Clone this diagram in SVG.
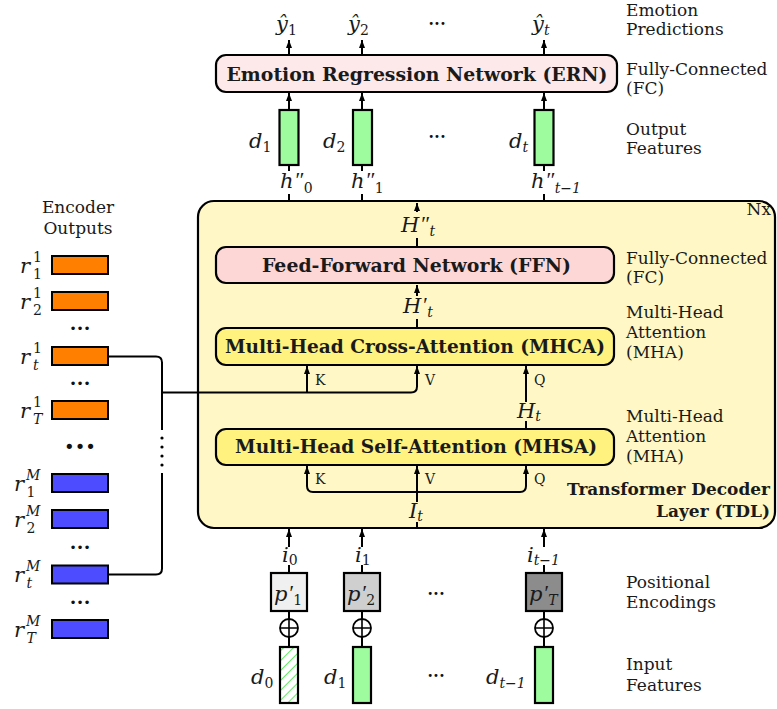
<svg xmlns="http://www.w3.org/2000/svg" width="777" height="709" viewBox="0 0 777 709">
<defs>
<style>
.t{font-family:"DejaVu Serif",serif;font-size:17px;fill:#1a1a1a}
.tb{font-family:"DejaVu Serif",serif;font-size:17px;font-weight:bold;fill:#1a1a1a;text-anchor:end}
.b{font-family:"DejaVu Serif",serif;font-size:19px;font-weight:bold;fill:#1a1a1a;text-anchor:middle}
.m{font-family:"DejaVu Serif",serif;font-style:italic;font-size:21px;fill:#1a1a1a}
.n{font-size:14px;font-style:normal}
.ni{font-size:14px}
.p{font-family:"Liberation Serif",serif;font-size:22px;font-style:italic}
.kv{font-family:"DejaVu Serif",serif;font-size:14px;fill:#1a1a1a}
.ln{fill:none;stroke:#000;stroke-width:2}
.ar{fill:none;stroke:#000;stroke-width:2;marker-end:url(#ah)}
.box{stroke:#000;stroke-width:2.2}
.g{fill:#9efc9e;stroke:#000;stroke-width:2.2}
.or{fill:#ff8000;stroke:#000;stroke-width:2}
.bl{fill:#4d4dff;stroke:#000;stroke-width:2}
.dots{font-family:"DejaVu Sans",sans-serif;font-size:10px;text-anchor:middle;fill:#111}
.op{fill:#fff;stroke:#000;stroke-width:1.8}
.cr{fill:none;stroke:#000;stroke-width:1.6}
</style>
<marker id="ah" viewBox="0 0 8 6" refX="8" refY="3" markerWidth="8" markerHeight="6" orient="auto" markerUnits="userSpaceOnUse">
<path d="M0,0 L8,3 L0,6 z" fill="#000"/>
</marker>
<pattern id="hatch" patternUnits="userSpaceOnUse" width="7" height="7" patternTransform="rotate(45)">
<rect width="7" height="7" fill="#fff"/>
<line x1="0" y1="0" x2="0" y2="7" stroke="#00dd00" stroke-width="1.2"/>
</pattern>
</defs>

<!-- Transformer decoder layer container -->
<g id="tdl">
<rect x="198" y="201" width="577" height="327" rx="16" fill="#fff8c6" class="box"/>
<text class="t" x="771" y="215" text-anchor="end">Nx</text>
<text class="tb" x="770" y="495" textLength="203" lengthAdjust="spacingAndGlyphs">Transformer Decoder</text>
<text class="tb" x="770" y="517">Layer (TDL)</text>
</g>

<!-- connectors -->
<g id="connectors">
<path class="ar" d="M289,55 V40"/>
<path class="ar" d="M362,55 V40"/>
<path class="ar" d="M544,55 V40"/>
<path class="ar" d="M289,110 V93"/>
<path class="ar" d="M362,110 V93"/>
<path class="ar" d="M544,110 V93"/>
<path class="ln" d="M289,165 V171 M289,194 V201"/>
<path class="ln" d="M362,165 V171 M362,194 V201"/>
<path class="ln" d="M544,165 V171 M544,194 V201"/>
<path class="ar" d="M417,212 V203"/>
<path class="ln" d="M417,238 V247"/>
<path class="ar" d="M417,296 V285"/>
<path class="ln" d="M417,319 V328"/>
<path class="ar" d="M162,392.5 H411 Q417,392.5 417,386.5 V366"/>
<path class="ar" d="M307,392.5 V366"/>
<path class="ar" d="M526,402 V366"/>
<path class="ln" d="M526,421 V429"/>
<path class="ar" d="M417,492 H313 Q307,492 307,486 V466"/>
<path class="ar" d="M417,492 H520 Q526,492 526,486 V466"/>
<path class="ar" d="M417,502 V466"/>
<path class="ln" d="M417,522 V528"/>
<path class="ln" d="M108,356.5 H156 Q162,356.5 162,362.5 V430"/>
<path class="ln" d="M162,473 V568.5 Q162,574.5 156,574.5 H108"/>
<circle cx="162" cy="438" r="1.6"/>
<circle cx="162" cy="447" r="1.6"/>
<circle cx="162" cy="456" r="1.6"/>
<circle cx="162" cy="465" r="1.6"/>
<path class="ar" d="M289,547 V529"/>
<path class="ar" d="M362,547 V529"/>
<path class="ar" d="M544,547 V529"/>
<path class="ln" d="M289,565 V573 M289,611 V619 M289,637 V647"/>
<path class="ln" d="M362,565 V573 M362,611 V619 M362,637 V647"/>
<path class="ln" d="M544,565 V573 M544,611 V619 M544,637 V647"/>
</g>

<!-- ERN -->
<g id="ern">
<rect x="216" y="55" width="401" height="37" rx="10" fill="#fde9e9" class="box"/>
<text class="b" x="417" y="81" textLength="381" lengthAdjust="spacingAndGlyphs">Emotion Regression Network (ERN)</text>
</g>

<!-- predictions -->
<g id="predictions">
<text class="m" x="276" y="31">ŷ<tspan class="n" dy="4">1</tspan></text>
<text class="m" x="348" y="31">ŷ<tspan class="n" dy="4">2</tspan></text>
<text class="dots" x="437" y="26.5">•••</text>
<text class="m" x="532" y="31">ŷ<tspan class="ni" dy="4">t</tspan></text>
</g>

<!-- output features -->
<g id="output-features">
<rect class="g" x="279.5" y="110" width="19" height="55"/>
<rect class="g" x="353" y="110" width="19" height="55"/>
<rect class="g" x="534.5" y="110" width="19" height="55"/>
<text class="m" x="249" y="148">d<tspan class="n" dy="4">1</tspan></text>
<text class="m" x="323" y="148">d<tspan class="n" dy="4">2</tspan></text>
<text class="dots" x="437" y="139.5">•••</text>
<text class="m" x="509" y="148">d<tspan class="ni" dy="4">t</tspan></text>
<text class="m" x="280" y="188">h<tspan class="p" dx="0.5" dy="-1">″</tspan><tspan class="n" dx="0.5" dy="6">0</tspan></text>
<text class="m" x="351" y="188">h<tspan class="p" dx="0.5" dy="-1">″</tspan><tspan class="n" dx="0.5" dy="6">1</tspan></text>
<text class="m" x="531" y="188">h<tspan class="p" dx="0.5" dy="-1">″</tspan><tspan class="ni" dx="0.5" dy="6">t−1</tspan></text>
</g>

<!-- FFN -->
<g id="ffn">
<rect x="216" y="247" width="398" height="36" rx="10" fill="#fdd6d6" class="box"/>
<text class="b" x="416.5" y="272" textLength="309" lengthAdjust="spacingAndGlyphs">Feed-Forward Network (FFN)</text>
</g>
<g id="h2t">
<text class="m" x="401" y="232">H<tspan class="p" dx="0.5" dy="-1">″</tspan><tspan class="ni" dx="0.5" dy="5">t</tspan></text>
</g>
<g id="h1t">
<text class="m" x="403" y="313">H<tspan class="p" dx="0.5" dy="-1">′</tspan><tspan class="ni" dx="0.5" dy="5">t</tspan></text>
</g>

<!-- MHCA -->
<g id="mhca">
<rect x="216" y="328" width="398" height="37" rx="10" fill="#fff27f" class="box"/>
<text class="b" x="415" y="353" textLength="380" lengthAdjust="spacingAndGlyphs">Multi-Head Cross-Attention (MHCA)</text>
<text class="kv" x="315" y="385">K</text>
<text class="kv" x="425" y="385">V</text>
<text class="kv" x="534" y="385">Q</text>
</g>
<g id="ht">
<text class="m" x="517" y="418">H<tspan class="ni" dy="3">t</tspan></text>
</g>

<!-- MHSA -->
<g id="mhsa">
<rect x="216" y="429" width="398" height="36" rx="10" fill="#fff27f" class="box"/>
<text class="b" x="416" y="453" textLength="362" lengthAdjust="spacingAndGlyphs">Multi-Head Self-Attention (MHSA)</text>
<text class="kv" x="315" y="484">K</text>
<text class="kv" x="425" y="484">V</text>
<text class="kv" x="534" y="484">Q</text>
</g>
<g id="it">
<text class="m" x="409" y="518">I<tspan class="ni" dy="3">t</tspan></text>
</g>

<!-- inputs -->
<g id="input-tokens">
<text class="m" x="282" y="562">i<tspan class="n" dy="3">0</tspan></text>
<text class="m" x="355" y="562">i<tspan class="n" dy="3">1</tspan></text>
<text class="m" x="527" y="562">i<tspan class="ni" dy="3">t−1</tspan></text>
</g>
<g id="positional-encodings">
<rect x="271" y="573" width="36" height="38" fill="#f0f0f0" class="box"/>
<rect x="344" y="573" width="36" height="38" fill="#cfcfcf" class="box"/>
<rect x="526" y="573" width="36" height="38" fill="#8c8c8c" class="box"/>
<text class="m" x="274" y="601">p<tspan class="p" dx="0.5" dy="-1">′</tspan><tspan class="n" dx="0.5" dy="5">1</tspan></text>
<text class="m" x="347" y="601">p<tspan class="p" dx="0.5" dy="-1">′</tspan><tspan class="n" dx="0.5" dy="5">2</tspan></text>
<text class="dots" x="436" y="596.5">•••</text>
<text class="m" x="529" y="601">p<tspan class="p" dx="0.5" dy="-1">′</tspan><tspan class="ni" dx="0.5" dy="5">T</tspan></text>
</g>
<g id="adders">
<circle class="op" cx="289" cy="628" r="9"/><path class="cr" d="M280,628 H298 M289,619 V637"/>
<circle class="op" cx="362" cy="628" r="9"/><path class="cr" d="M353,628 H371 M362,619 V637"/>
<circle class="op" cx="544" cy="628" r="9"/><path class="cr" d="M535,628 H553 M544,619 V637"/>
</g>
<g id="input-features">
<rect x="280" y="647" width="18" height="56" fill="url(#hatch)" stroke="#000" stroke-width="2.2"/>
<rect class="g" x="353" y="647" width="18" height="56"/>
<rect class="g" x="535" y="647" width="18" height="56"/>
<text class="m" x="251" y="684">d<tspan class="n" dy="4">0</tspan></text>
<text class="m" x="324" y="684">d<tspan class="n" dy="4">1</tspan></text>
<text class="dots" x="436" y="678.5">•••</text>
<text class="m" x="486" y="684">d<tspan class="ni" dy="4">t−1</tspan></text>
</g>

<!-- encoder outputs -->
<g id="encoder-outputs">
<text class="t" x="78" y="213" text-anchor="middle">Encoder</text>
<text class="t" x="78" y="234" text-anchor="middle">Outputs</text>
<rect class="or" x="52" y="256" width="56" height="18"/>
<rect class="or" x="52" y="292" width="56" height="18"/>
<rect class="or" x="52" y="347" width="56" height="18"/>
<rect class="or" x="52" y="401" width="56" height="18"/>
<text class="m" x="20" y="273">r<tspan class="n" dx="3" dy="-11">1</tspan><tspan class="n" dx="-8.9" dy="17">1</tspan></text>
<text class="m" x="20" y="309">r<tspan class="n" dx="3" dy="-11">1</tspan><tspan class="n" dx="-8.9" dy="17">2</tspan></text>
<text class="dots" x="80" y="332.5" style="font-size:12px">•••</text>
<text class="m" x="20" y="364">r<tspan class="n" dx="3" dy="-11">1</tspan><tspan class="ni" dx="-8.9" dy="17">t</tspan></text>
<text class="dots" x="80" y="387.5" style="font-size:12px">•••</text>
<text class="m" x="20" y="418">r<tspan class="n" dx="3" dy="-11">1</tspan><tspan class="ni" dx="-8.9" dy="17">T</tspan></text>
<text class="dots" x="80" y="453" style="font-size:18px">•••</text>
<rect class="bl" x="52" y="474" width="56" height="18"/>
<rect class="bl" x="52" y="510" width="56" height="18"/>
<rect class="bl" x="52" y="565.5" width="56" height="18"/>
<rect class="bl" x="52" y="620" width="56" height="18"/>
<text class="m" x="14" y="491">r<tspan class="ni" dx="2" dy="-11">M</tspan><tspan class="n" dx="-14" dy="17">1</tspan></text>
<text class="m" x="14" y="527">r<tspan class="ni" dx="2" dy="-11">M</tspan><tspan class="n" dx="-14" dy="17">2</tspan></text>
<text class="dots" x="80" y="551.5" style="font-size:12px">•••</text>
<text class="m" x="14" y="582">r<tspan class="ni" dx="2" dy="-11">M</tspan><tspan class="ni" dx="-14" dy="17">t</tspan></text>
<text class="dots" x="80" y="606.5" style="font-size:12px">•••</text>
<text class="m" x="14" y="637">r<tspan class="ni" dx="2" dy="-11">M</tspan><tspan class="ni" dx="-14" dy="17">T</tspan></text>
</g>

<!-- side annotations -->
<g id="annotations">
<text class="t" x="626" y="16">Emotion</text>
<text class="t" x="626" y="35">Predictions</text>
<text class="t" x="626" y="75">Fully-Connected</text>
<text class="t" x="626" y="94">(FC)</text>
<text class="t" x="626" y="135">Output</text>
<text class="t" x="626" y="154">Features</text>
<text class="t" x="626" y="264">Fully-Connected</text>
<text class="t" x="626" y="283">(FC)</text>
<text class="t" x="626" y="318">Multi-Head</text>
<text class="t" x="626" y="338">Attention</text>
<text class="t" x="626" y="358">(MHA)</text>
<text class="t" x="626" y="422">Multi-Head</text>
<text class="t" x="626" y="442">Attention</text>
<text class="t" x="626" y="462">(MHA)</text>
<text class="t" x="626" y="588">Positional</text>
<text class="t" x="626" y="608">Encodings</text>
<text class="t" x="626" y="670">Input</text>
<text class="t" x="626" y="691">Features</text>
</g>
</svg>
